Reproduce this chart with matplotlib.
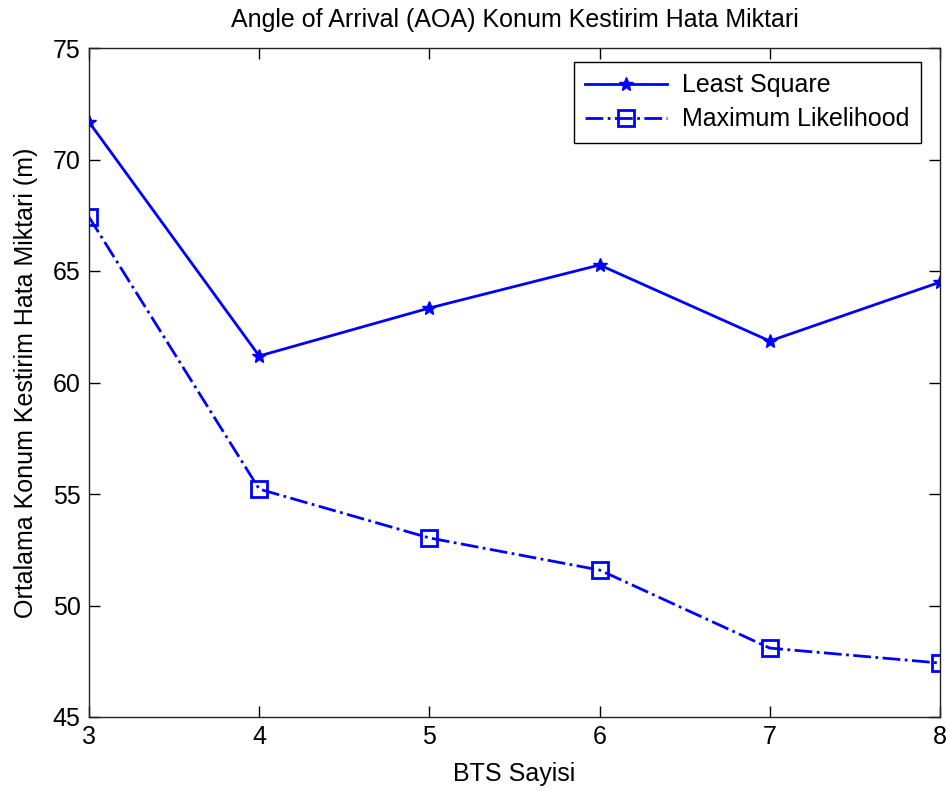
import matplotlib
matplotlib.use('Agg')
import matplotlib.pyplot as plt

# Ortalama konum hatasi (m), BTS sayisina gore
bts_sayisi = [3, 4, 5, 6, 7, 8]
least_square = [71.68, 61.19, 63.34, 65.27, 61.86, 64.50]
maximum_likelihood = [67.42, 55.22, 53.03, 51.59, 48.09, 47.42]

plt.rcParams['font.family'] = ['Liberation Sans', 'DejaVu Sans']
fs = 18

W, H = 946, 791
fig = plt.figure(figsize=(W / 100, H / 100), dpi=100)
x0, x1, y0, y1 = 89, 940, 48, 717
ax = fig.add_axes([x0 / W, 1 - y1 / H, (x1 - x0) / W, (y1 - y0) / H])

ax.plot(bts_sayisi, least_square, color='#0000ff', linestyle='-', linewidth=2,
        marker='*', markersize=10, label='Least Square')
ax.plot(bts_sayisi, maximum_likelihood, color='#0000ff', linestyle='-.', linewidth=2,
        marker='s', markersize=11, markerfacecolor='none', markeredgewidth=2,
        label='Maximum Likelihood')

ax.set_xlim(3, 8)
ax.set_ylim(45, 75)
ax.set_xticks(bts_sayisi)
ax.set_yticks([45, 50, 55, 60, 65, 70, 75])
ax.tick_params(direction='in', length=8, width=1, top=True, right=True,
               labelsize=fs, pad=6)
for s in ax.spines.values():
    s.set_linewidth(1)
    s.set_color('#222222')

ax.set_title('Angle of Arrival (AOA) Konum Kestirim Hata Miktari', fontsize=fs, pad=15)
ax.set_xlabel('BTS Sayisi', fontsize=fs, labelpad=9)
ax.set_ylabel('Ortalama Konum Kestirim Hata Miktari (m)', fontsize=fs, labelpad=11)

# legend anchored to its upper-right corner inside the axes
anchor = ((921 - x0) / (x1 - x0), (y1 - 62) / (y1 - y0))
leg = ax.legend(loc='upper right', bbox_to_anchor=anchor, fontsize=fs,
                fancybox=False, framealpha=1, edgecolor='black',
                handlelength=3.3, handletextpad=0.6, borderaxespad=0,
                borderpad=0.45, labelspacing=0.4)
leg.get_frame().set_linewidth(1)

fig.savefig('out.png', dpi=100)
